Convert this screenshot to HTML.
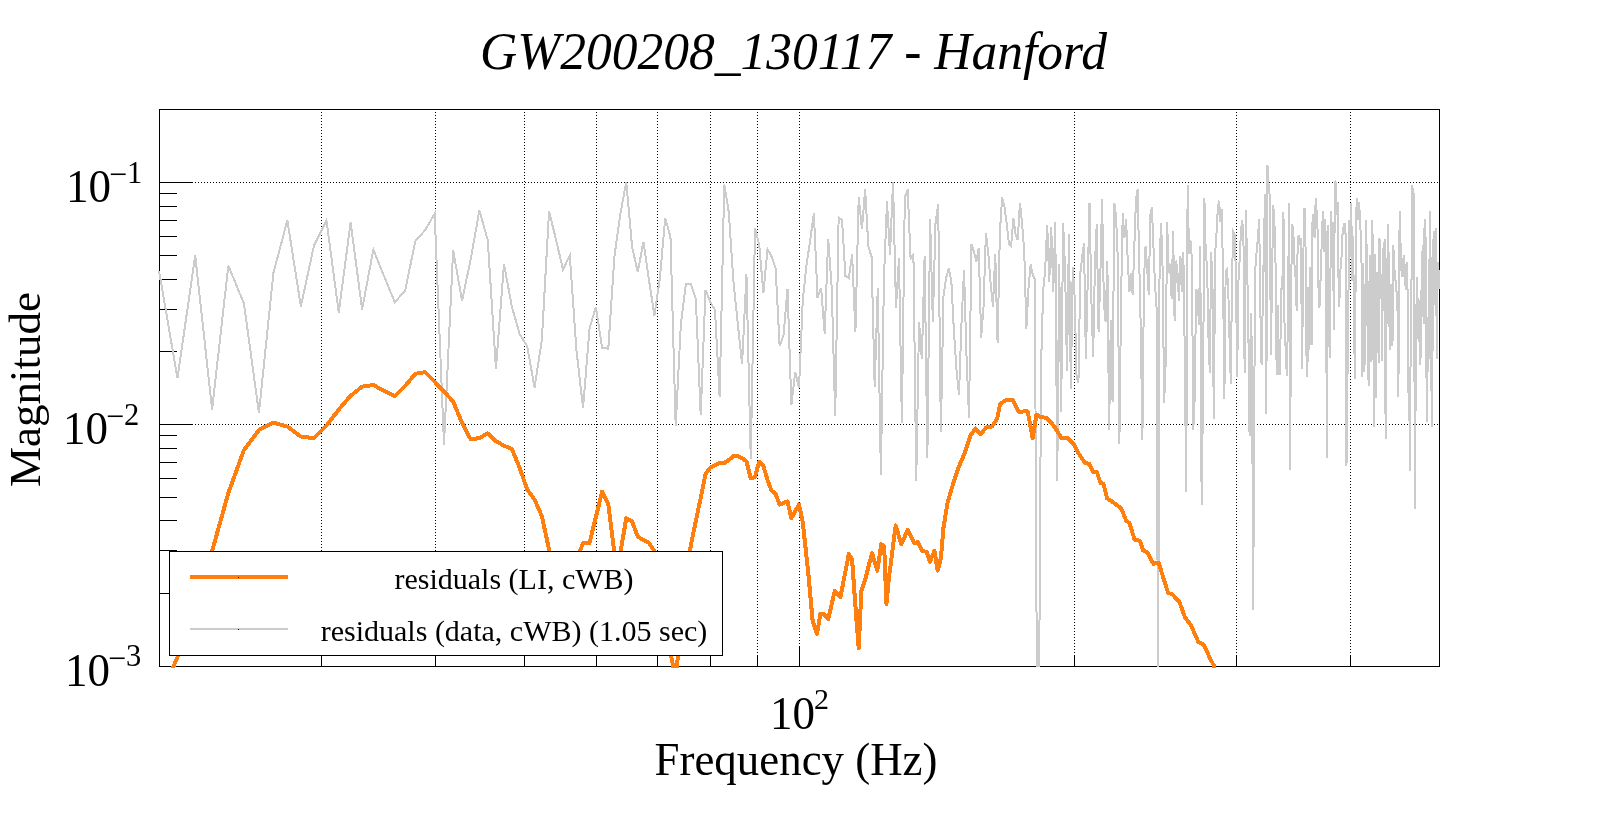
<!DOCTYPE html><html><head><meta charset="utf-8"><style>html,body{margin:0;padding:0;background:#fff;overflow:hidden}svg{display:block;will-change:transform}text{font-family:"Liberation Serif",serif;fill:#000}</style></head><body>
<svg width="1599" height="813" viewBox="0 0 1599 813">
<rect x="0" y="0" width="1599" height="813" fill="#fff"/>
<defs><clipPath id="cg"><rect x="158" y="109" width="1282" height="558"/></clipPath><clipPath id="co"><rect x="158" y="109" width="1282" height="559"/></clipPath></defs>
<path d="M321.5 109 V666 M435.5 109 V666 M524.5 109 V666 M596.5 109 V666 M657.5 109 V666 M710.5 109 V666 M757.5 109 V666 M799.5 109 V666 M1074.5 109 V666 M1236.5 109 V666 M1350.5 109 V666 M159 182.5 H1439 M159 424.5 H1439" stroke="#000" stroke-width="1" stroke-dasharray="1 2" fill="none" shape-rendering="crispEdges"/>
<rect x="159.5" y="109.5" width="1280" height="557" fill="none" stroke="#000" stroke-width="1" shape-rendering="crispEdges"/>
<path d="M321.5 667 V655 M435.5 667 V655 M524.5 667 V655 M596.5 667 V655 M657.5 667 V655 M710.5 667 V655 M757.5 667 V655 M1074.5 667 V655 M1236.5 667 V655 M1350.5 667 V655 M799.5 667 V646 M159 182.5 H193 M159 193.5 H177 M159 206.5 H177 M159 220.5 H177 M159 236.5 H177 M159 255.5 H177 M159 279.5 H177 M159 309.5 H177 M159 351.5 H177 M159 424.5 H193 M159 435.5 H177 M159 448.5 H177 M159 462.5 H177 M159 478.5 H177 M159 497.5 H177 M159 520.5 H177 M159 550.5 H177 M159 593.5 H177 M159 666.5 H193" stroke="#000" stroke-width="1" fill="none" shape-rendering="crispEdges"/>
<polyline clip-path="url(#cg)" points="159.00,270.70 177.50,378.20 195.18,255.40 212.10,409.50 228.33,265.70 243.93,303.40 258.94,413.00 273.40,273.00 287.36,220.40 300.84,306.40 313.88,246.00 326.50,220.60 338.74,312.50 350.61,222.50 362.14,309.40 373.34,249.60 384.24,276.60 394.84,302.20 405.17,290.50 415.24,241.30 425.06,230.20 434.64,213.70 444.00,444.50 453.14,250.20 462.08,300.90 470.82,258.50 479.37,210.60 487.74,240.00 495.94,369.00 503.98,264.00 511.85,306.40 519.57,334.00 527.15,346.20 534.58,387.50 541.88,339.60 549.04,211.30 556.08,240.00 563.00,269.50 569.80,255.50 576.48,350.60 583.05,407.80 589.52,328.50 595.88,307.00 602.14,347.70 608.31,348.80 614.38,256.60 620.36,214.00 626.25,182.00 632.06,246.60 637.78,272.20 643.42,241.70 648.98,280.00 654.47,315.60 659.88,278.00 665.22,218.00 670.48,237.00 675.68,426.00 680.81,325.00 685.88,284.40 690.88,284.40 695.82,299.00 700.70,415.00 705.52,290.00 710.28,302.00 714.99,310.00 719.64,397.00 724.24,184.60 728.78,212.00 733.28,280.00 737.72,323.00 742.11,364.00 746.46,274.00 750.76,459.00 755.01,228.00 759.22,245.00 763.38,293.00 767.50,249.00 771.58,256.50 775.62,268.30 779.62,346.00 783.57,335.00 787.49,289.00 791.37,405.00 795.21,372.00 799.02,388.00 802.79,300.00 806.52,265.00 810.22,240.00 813.89,213.10 817.52,297.80 821.12,288.00 824.68,333.50 828.22,238.70 831.72,288.00 835.20,416.00 838.64,217.35 842.05,220.00 845.44,276.00 848.79,278.00 852.12,254.50 855.42,331.50 858.69,197.40 861.94,229.00 865.16,189.50 868.35,246.60 871.52,256.50 874.67,386.60 877.78,288.00 880.88,474.50 883.95,278.28 887.00,201.30 890.02,254.50 893.02,181.70 896.00,307.60 898.96,258.19 901.89,423.00 904.81,197.40 907.70,189.50 910.57,258.40 913.42,254.50 916.25,480.50 919.06,322.00 921.85,359.00 924.62,256.50 927.37,457.50 930.11,219.00 932.82,321.70 935.52,223.00 938.20,204.30 940.86,432.00 943.50,295.80 946.12,278.13 948.73,268.40 951.32,280.60 953.90,331.05 956.45,369.05 958.99,395.00 961.52,322.21 964.03,270.00 966.52,356.09 969.00,417.80 971.46,244.30 973.91,251.57 976.34,261.50 978.76,248.00 981.16,337.70 983.55,306.28 985.92,232.90 988.28,253.13 990.63,283.10 992.96,307.00 995.28,253.70 997.59,343.00 999.88,232.00 1002.16,197.60 1004.42,206.50 1006.68,223.42 1008.92,243.90 1011.14,245.90 1013.36,218.30 1015.56,234.00 1017.75,240.00 1019.93,202.60 1022.10,224.20 1024.26,251.80 1026.40,328.50 1028.53,287.20 1030.65,264.60 1032.76,274.62 1034.86,279.30 1036.95,700.00 1039.02,700.00 1041.09,365.00 1043.15,291.00 1045.19,269.50 1047.22,225.20 1049.25,282.30 1051.26,227.20 1053.26,292.00 1055.26,222.20 1057.24,481.00 1059.21,263.60 1061.18,412.00 1063.13,223.20 1065.08,269.50 1067.01,371.00 1068.94,234.00 1070.85,388.60 1072.76,267.50 1074.66,297.00 1076.55,376.48 1078.43,383.00 1080.30,273.40 1082.16,257.16 1084.02,243.00 1085.86,359.00 1087.70,282.03 1089.53,202.60 1091.35,299.00 1093.16,357.00 1094.96,263.60 1096.76,224.20 1098.55,331.50 1100.32,276.66 1102.10,198.60 1103.86,303.00 1105.62,321.70 1107.36,260.60 1109.10,430.00 1110.84,319.70 1112.56,402.00 1114.28,202.60 1115.99,216.30 1117.69,255.70 1119.39,444.00 1121.08,297.00 1122.76,213.40 1124.43,238.00 1126.10,219.30 1127.76,261.60 1129.41,292.00 1131.06,273.40 1132.70,295.00 1134.33,245.90 1135.96,199.67 1137.58,189.20 1139.19,259.60 1140.80,331.47 1142.40,440.00 1143.99,279.30 1145.58,245.90 1147.16,267.50 1148.74,295.00 1150.31,215.40 1151.87,207.50 1153.43,245.90 1154.98,284.39 1156.52,307.00 1158.06,700.00 1159.59,259.60 1161.12,223.20 1162.64,269.50 1164.15,403.00 1165.66,363.19 1167.17,222.20 1168.66,273.40 1170.16,263.63 1171.64,299.00 1173.12,231.00 1174.60,320.70 1176.07,260.60 1177.53,272.86 1178.99,301.00 1180.45,256.26 1181.90,291.63 1183.34,251.80 1184.78,354.57 1186.21,492.00 1187.64,185.20 1189.06,253.70 1190.48,240.20 1191.89,259.60 1193.30,430.00 1194.70,398.02 1196.10,289.00 1197.49,293.00 1198.88,324.60 1200.26,245.90 1201.64,505.00 1203.02,392.87 1204.38,197.60 1205.75,253.70 1207.11,267.50 1208.46,336.36 1209.81,372.80 1211.16,251.80 1212.50,287.20 1213.84,419.00 1215.17,253.70 1216.50,233.29 1217.82,208.96 1219.14,200.60 1220.45,222.20 1221.76,209.40 1223.07,277.40 1224.37,399.40 1225.67,271.45 1226.96,269.50 1228.25,289.20 1229.54,339.13 1230.82,383.70 1232.09,271.50 1233.37,232.10 1234.64,234.56 1235.90,273.40 1237.16,376.80 1238.42,281.89 1239.67,259.60 1240.92,231.69 1242.16,219.70 1243.40,233.00 1244.64,372.80 1245.87,210.40 1247.10,263.60 1248.33,326.88 1249.55,435.80 1250.77,312.80 1251.98,351.21 1253.19,609.70 1254.40,377.58 1255.60,257.70 1256.80,251.80 1258.00,236.17 1259.19,219.30 1260.38,312.59 1261.56,365.00 1262.75,304.42 1263.92,243.90 1265.10,193.70 1266.27,414.00 1267.44,164.80 1268.60,185.93 1269.76,196.70 1270.92,355.00 1272.08,273.87 1273.23,205.50 1274.37,220.30 1275.52,263.28 1276.66,374.80 1277.80,305.00 1278.93,373.64 1280.06,373.80 1281.19,289.20 1282.32,288.87 1283.44,212.40 1284.56,327.34 1285.67,349.20 1286.79,375.80 1287.89,325.46 1289.00,203.50 1290.10,469.70 1291.20,279.63 1292.30,224.20 1293.39,233.48 1294.49,264.60 1295.57,277.95 1296.66,310.80 1297.74,240.32 1298.82,235.00 1299.90,245.29 1300.97,238.00 1302.04,369.00 1303.11,272.76 1304.17,208.50 1305.23,208.50 1306.29,350.98 1307.35,376.80 1308.40,287.20 1309.45,350.20 1310.50,266.89 1311.55,344.50 1312.59,214.40 1313.63,230.00 1314.67,237.88 1315.70,198.43 1316.73,213.40 1317.76,233.22 1318.79,307.90 1319.81,304.45 1320.83,269.50 1321.85,238.71 1322.87,211.40 1323.88,251.89 1324.89,218.89 1325.90,238.00 1326.90,458.40 1327.91,225.18 1328.91,330.12 1329.90,358.23 1330.90,211.40 1331.89,243.26 1332.88,221.69 1333.87,329.50 1334.86,180.90 1335.84,182.76 1336.82,214.78 1337.80,201.60 1338.77,307.00 1339.75,294.59 1340.72,261.75 1341.69,255.70 1342.65,231.21 1343.62,226.48 1344.58,223.20 1345.54,233.79 1346.50,465.50 1347.45,379.70 1348.40,300.00 1349.35,219.91 1350.30,257.08 1351.25,202.60 1352.19,281.39 1353.13,236.18 1354.07,331.49 1355.01,378.70 1355.94,221.32 1356.87,197.60 1357.80,219.81 1358.73,201.62 1359.66,212.12 1360.58,232.10 1361.50,262.90 1362.42,376.80 1363.34,262.52 1364.26,372.25 1365.17,346.03 1366.08,220.30 1366.99,270.58 1367.90,366.57 1368.80,385.60 1369.70,255.13 1370.60,285.47 1371.50,361.53 1372.40,220.30 1373.29,335.64 1374.19,427.00 1375.08,254.25 1375.97,398.27 1376.85,272.55 1377.74,279.84 1378.62,363.18 1379.50,238.00 1380.38,278.46 1381.26,274.45 1382.13,361.00 1383.00,247.95 1383.88,249.99 1384.74,239.00 1385.61,438.80 1386.48,326.64 1387.34,266.92 1388.20,224.20 1389.06,299.84 1389.92,350.00 1390.78,283.97 1391.63,292.53 1392.48,345.71 1393.33,244.90 1394.18,268.17 1395.03,272.54 1395.88,286.58 1396.72,293.00 1397.56,311.92 1398.40,396.50 1399.24,239.93 1400.07,211.40 1400.91,271.36 1401.74,265.37 1402.57,277.40 1403.40,258.03 1404.23,255.29 1405.06,280.47 1405.88,289.67 1406.70,261.60 1407.52,288.81 1408.34,393.10 1409.16,383.70 1409.98,471.00 1410.79,314.68 1411.60,275.50 1412.41,184.80 1413.22,207.15 1414.03,193.13 1414.83,509.30 1415.64,395.42 1416.44,306.63 1417.24,277.40 1418.04,339.12 1418.84,299.91 1419.64,349.56 1420.43,365.00 1421.22,306.21 1422.01,262.05 1422.80,244.86 1423.59,324.26 1424.38,229.32 1425.16,219.30 1425.95,260.57 1426.73,422.00 1427.51,316.90 1428.29,372.16 1429.07,327.26 1429.84,211.40 1430.62,264.25 1431.39,384.41 1432.16,427.00 1432.93,263.16 1433.70,230.95 1434.47,274.37 1435.23,304.72 1436.00,228.10 1436.76,359.00 1437.52,267.86 1438.28,262.00 1439.04,288.00 1439.79,288.00" fill="none" stroke="#cccccc" stroke-width="2" stroke-linejoin="miter" shape-rendering="crispEdges"/>
<polyline clip-path="url(#co)" points="159.00,700.00 177.50,657.00 195.18,606.00 212.10,551.00 228.33,493.00 243.93,450.00 258.94,430.00 273.40,422.60 287.36,426.60 300.84,436.50 313.88,438.20 326.50,425.60 338.74,409.60 350.61,395.80 362.14,386.60 373.34,385.00 384.24,391.00 394.84,396.00 405.17,386.00 415.24,373.80 425.06,372.20 434.64,381.80 444.00,391.40 453.14,401.60 462.08,423.00 470.82,439.50 479.37,438.00 487.74,433.40 495.94,441.30 503.98,445.60 511.85,449.00 519.57,467.50 527.15,489.60 534.58,499.60 541.88,516.20 549.04,549.40 556.08,600.00 563.00,620.00 569.80,600.00 576.48,560.00 583.05,543.00 589.52,543.00 595.88,517.00 602.14,491.50 608.31,504.50 614.38,553.00 620.36,553.00 626.25,518.30 632.06,521.40 637.78,536.80 643.42,539.90 648.98,543.00 654.47,551.00 659.88,590.00 665.22,625.00 670.48,652.00 675.68,681.00 680.81,623.00 685.88,580.00 690.88,545.00 695.82,521.00 700.70,498.00 705.52,474.00 710.28,467.60 714.99,465.00 719.64,463.00 724.24,463.00 728.78,460.00 733.28,456.30 737.72,456.30 742.11,458.00 746.46,461.50 750.76,478.40 755.01,476.90 759.22,461.50 763.38,466.00 767.50,480.00 771.58,490.70 775.62,493.80 779.62,504.50 783.57,503.00 787.49,501.40 791.37,518.30 795.21,511.00 799.02,504.50 802.70,522.00 808.30,573.00 812.70,621.60 817.10,633.80 820.40,613.90 823.80,613.90 828.20,619.40 834.80,590.60 840.40,597.30 848.80,554.10 852.10,559.70 855.90,612.80 858.70,648.20 861.40,590.60 865.80,577.40 872.00,553.00 877.30,570.70 881.30,544.20 884.20,546.40 886.40,603.90 889.00,577.40 895.70,525.40 901.20,544.20 907.90,529.80 914.50,543.10 917.80,542.00 922.20,550.80 926.70,551.90 930.00,561.90 934.40,550.80 937.70,570.70 941.00,557.50 943.30,528.70 947.70,502.10 952.90,484.50 958.80,466.80 964.70,453.00 970.60,435.30 975.50,428.40 980.40,434.30 986.30,427.40 992.20,426.40 997.20,418.50 1000.10,403.80 1006.00,400.20 1012.90,400.20 1018.80,411.70 1027.70,411.30 1032.60,438.20 1036.50,414.60 1040.00,416.60 1046.60,418.10 1051.80,423.30 1057.00,430.60 1061.40,438.00 1067.30,438.00 1073.90,444.70 1078.30,452.80 1085.00,463.10 1089.40,463.80 1093.10,472.00 1096.80,472.00 1100.50,483.00 1103.40,483.70 1107.10,498.50 1110.80,500.70 1121.10,508.20 1126.30,520.90 1129.40,523.00 1134.60,539.70 1139.90,540.80 1143.00,550.20 1147.20,552.30 1153.50,563.80 1158.70,562.80 1163.90,579.50 1168.10,593.10 1172.30,594.10 1179.60,602.50 1184.90,617.20 1191.10,625.50 1198.50,642.30 1203.70,644.40 1208.90,655.90 1213.70,665.30 1218.00,690.00" fill="none" stroke="#ff7f0e" stroke-width="4" stroke-linejoin="round" shape-rendering="crispEdges"/>
<rect x="169.5" y="551.5" width="553" height="104" fill="#fff" stroke="#000" stroke-width="1" shape-rendering="crispEdges"/>
<rect x="190" y="575" width="98" height="4" fill="#ff7f0e"/><rect x="238" y="577" width="1" height="1" fill="#000"/>
<rect x="190" y="628" width="98" height="2" fill="#cccccc"/><rect x="238" y="629" width="1" height="1" fill="#000"/>
<text x="514" y="589" font-size="30" text-anchor="middle">residuals (LI, cWB)</text>
<text x="514" y="641" font-size="30" text-anchor="middle">residuals (data, cWB) (1.05 sec)</text>
<text x="480" y="69" font-size="53" font-style="italic" textLength="627" lengthAdjust="spacingAndGlyphs">GW200208_130117 - Hanford</text>
<text x="654.5" y="775" font-size="45.5" textLength="283" lengthAdjust="spacingAndGlyphs">Frequency (Hz)</text>
<text transform="translate(40,389.5) rotate(-90)" font-size="45" text-anchor="middle">Magnitude</text>
<text x="66" y="201.5" font-size="46" textLength="45" lengthAdjust="spacingAndGlyphs">10</text><text x="109" y="185" font-size="32">−</text><text x="127" y="183" font-size="30.5">1</text>
<text x="63" y="443.5" font-size="46" textLength="45" lengthAdjust="spacingAndGlyphs">10</text><text x="106" y="427" font-size="32">−</text><text x="124" y="424.7" font-size="30.5">2</text>
<text x="65" y="685.5" font-size="46" textLength="45" lengthAdjust="spacingAndGlyphs">10</text><text x="108" y="669" font-size="32">−</text><text x="126" y="666.2" font-size="30.5">3</text>
<text x="770" y="729" font-size="46" textLength="45" lengthAdjust="spacingAndGlyphs">10</text><text x="814" y="709" font-size="30">2</text>
</svg></body></html>
